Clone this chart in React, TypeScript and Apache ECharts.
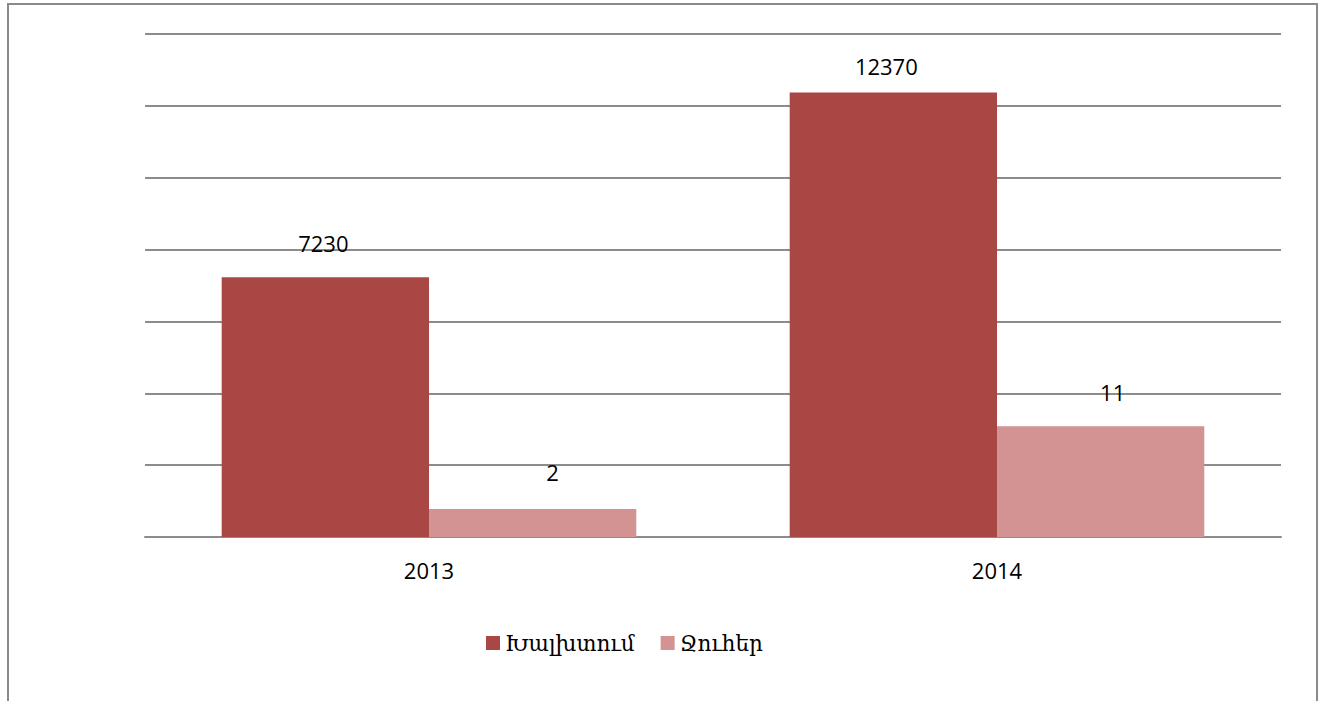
import React, { useEffect, useRef } from "react";
import * as echarts from "echarts";

const categories = ["2013", "2014"];
const seriesNames = ["Խալխտում", "Ջուհեր"];
const redValues = [7230, 12370];
const pinkValues = [780, 3080];
const redLabels = ["7230", "12370"];
const pinkLabels = ["2", "11"];

// label placement tweaks (style only)
const redLabelStyle = [
  { distance: 23, dx: -2 },
  { distance: 16, dx: -7 },
];
const pinkLabelStyle = [
  { distance: 26, dx: 20 },
  { distance: 23, dx: 12 },
];

const RED = "#A94744";
const PINK = "#D39392";
const FONT = "'Open Sans', 'Noto Sans', sans-serif";

export default function App() {
  const ref = useRef<HTMLDivElement>(null);
  useEffect(() => {
    document.body.style.margin = "0";
    const chart = echarts.init(ref.current!, undefined, { renderer: "svg" });
    const mk = (vals: number[], labels: string[], st: { distance: number; dx: number }[]) =>
      vals.map((v, i) => ({
        value: v,
        label: {
          show: true,
          position: "top",
          distance: st[i].distance,
          offset: [st[i].dx, 0],
          formatter: () => labels[i],
          color: "#000",
          fontSize: 22,
          fontFamily: FONT,
        },
      }));
    chart.setOption({
      animation: false,
      backgroundColor: "#fff",
      grid: { left: 145, right: 44, top: 34, bottom: 164, containLabel: false },
      xAxis: {
        type: "category",
        data: categories,
        axisLine: { show: true, lineStyle: { color: "#8c8c8c", width: 2 } },
        axisTick: { show: false },
        axisLabel: { color: "#000", fontSize: 22, fontFamily: FONT, margin: 22 },
      },
      yAxis: {
        type: "value",
        min: 0,
        max: 14000,
        interval: 2000,
        axisLine: { show: false },
        axisTick: { show: false },
        axisLabel: { show: false },
        splitLine: { show: true, lineStyle: { color: "#8c8c8c", width: 2 } },
      },
      legend: {
        bottom: 42,
        left: 481,
        itemWidth: 14,
        itemHeight: 14,
        itemGap: 26,
        icon: "rect",
        textStyle: { color: "#000", fontSize: 21.5, fontFamily: "'DejaVu Serif', 'DejaVu Sans', serif" },
        data: seriesNames,
      },
      series: [
        {
          name: seriesNames[0],
          type: "bar",
          data: mk(redValues, redLabels, redLabelStyle),
          itemStyle: { color: RED },
          barGap: "0%",
          barCategoryGap: "27%",
        },
        {
          name: seriesNames[1],
          type: "bar",
          data: mk(pinkValues, pinkLabels, pinkLabelStyle),
          itemStyle: { color: PINK },
          barGap: "0%",
          barCategoryGap: "27%",
        },
      ],
      graphic: [
        {
          type: "rect",
          shape: { x: 8, y: 4, width: 1309, height: 720 },
          style: { fill: "none", stroke: "#8a8a8a", lineWidth: 2 },
          silent: true,
        },
      ],
    });
    return () => chart.dispose();
  }, []);
  return <div ref={ref} style={{ width: 1325, height: 701, position: "absolute", left: 0, top: 0 }} />;
}
